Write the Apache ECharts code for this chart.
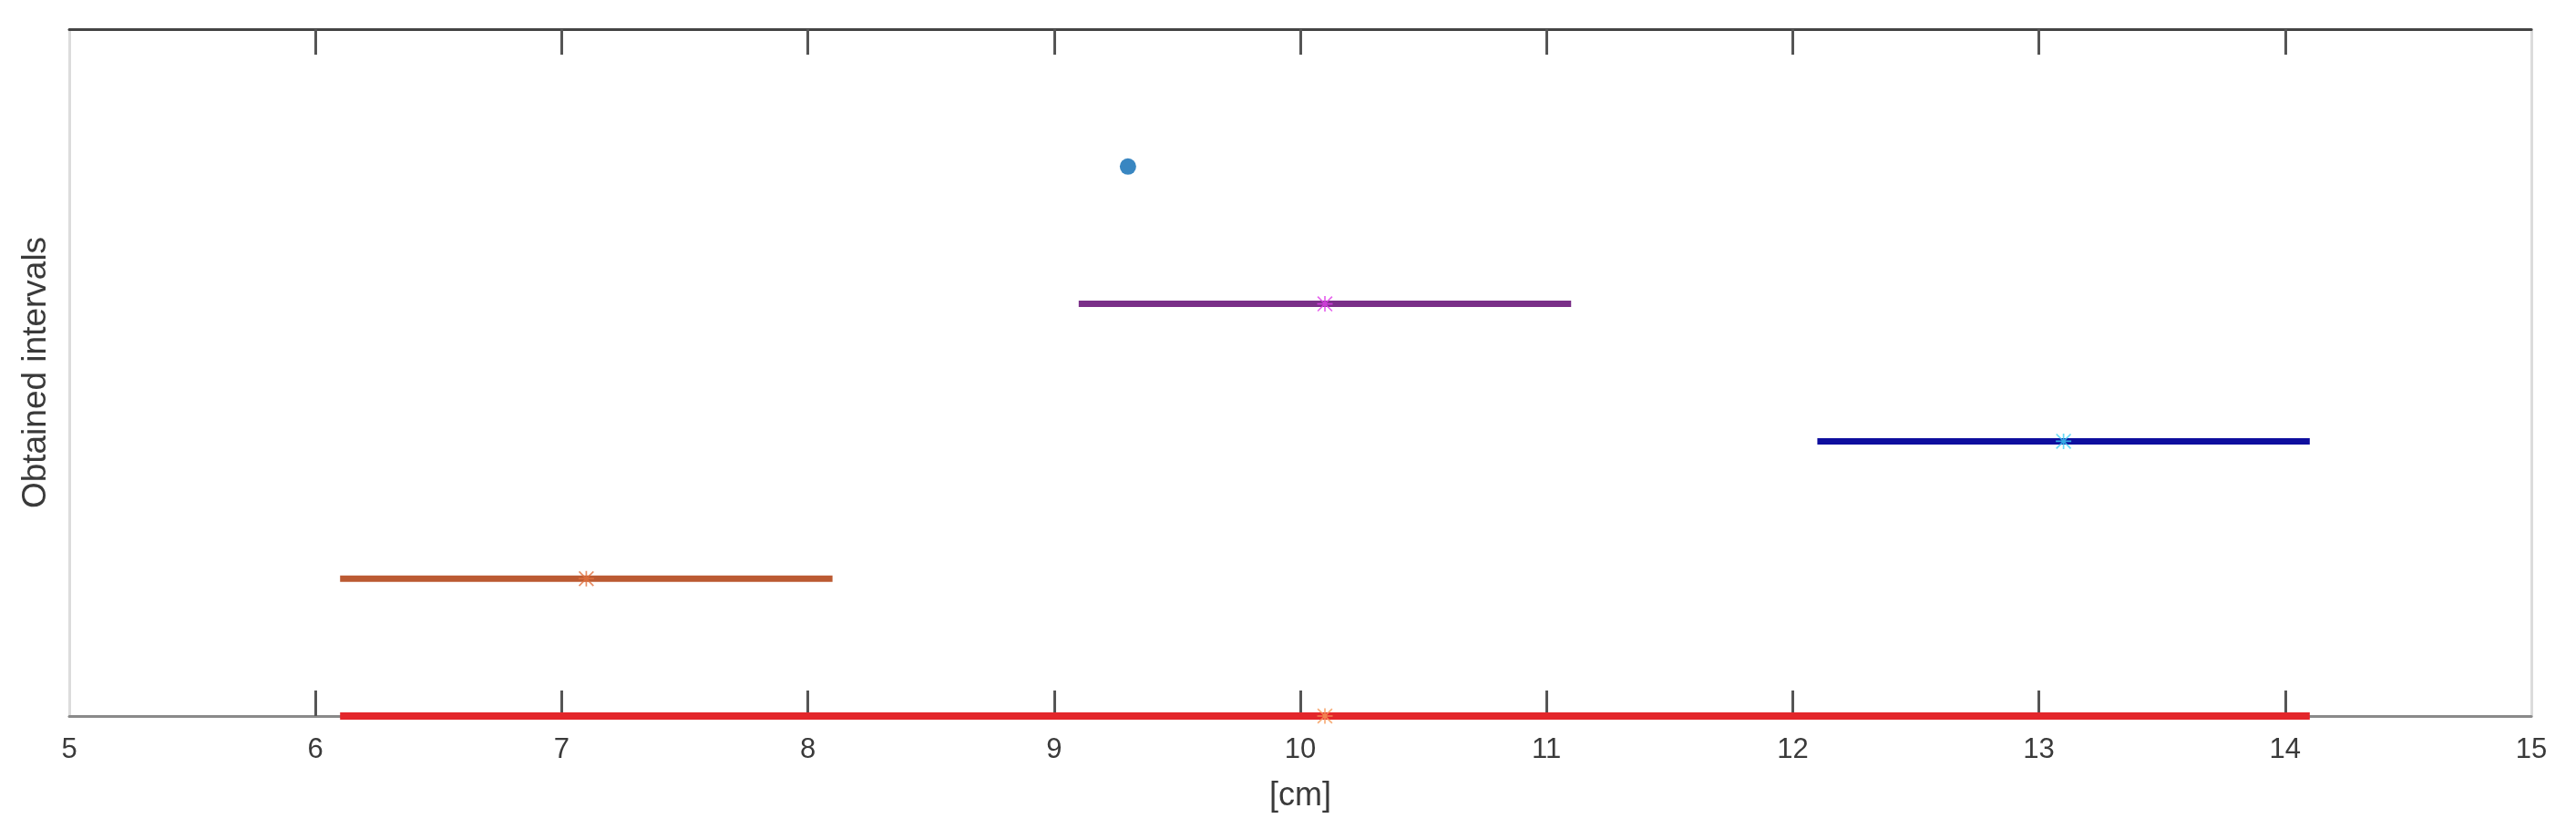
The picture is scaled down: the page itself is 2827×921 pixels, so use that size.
<!DOCTYPE html>
<html>
<head>
<meta charset="utf-8">
<script src="https://cdn.jsdelivr.net/npm/echarts@6/dist/echarts.min.js"></script>
<style>
html,body{margin:0;padding:0;background:#fff;}
#chart{width:2827px;height:921px;}
</style>
</head>
<body>
<div id="chart"></div>
<script>
// ---- data ----
const xTickMin = 5;
const xTickMax = 15;
const xTickStep = 1;
const xInnerTicks = [6, 7, 8, 9, 10, 11, 12, 13, 14];
const yMin = 0;
const yMax = 5;

const intervalLevel = [0, 1, 2, 3];
const intervalLow   = [6.1, 6.1, 12.1, 9.1];
const intervalHigh  = [14.1, 8.1, 14.1, 11.1];
const intervalMid   = [10.1, 7.1, 13.1, 10.1];
const intervalLineColor   = ['#e3262b', '#bb5a32', '#0e0e9e', '#7a2f88'];
const intervalMarkerColor = ['#f59a5a', '#e0703e', '#3fd0f2', '#e040e8'];

const pointX = [9.3];
const pointY = [4];

const xName = '[cm]';
const yName = 'Obtained intervals';

// asterisk marker (MATLAB '*')
const asterisk = 'path://M9,0 L11,0 L11,20 L9,20 Z M0,9 L20,9 L20,11 L0,11 Z ' +
  'M0,1.4 L1.4,0 L20,18.6 L18.6,20 Z M18.6,0 L20,1.4 L1.4,20 L0,18.6 Z';

const series = [];
intervalLevel.forEach((lv, i) => {
  series.push({
    type: 'line',
    data: [[intervalLow[i], lv], [intervalHigh[i], lv]],
    showSymbol: false,
    clip: false,
    lineStyle: { color: intervalLineColor[i], width: i === 0 ? 8 : 7, cap: 'butt' },
    z: 5,
    silent: true
  });
  series.push({
    type: 'scatter',
    data: [[intervalMid[i], lv]],
    symbol: asterisk,
    symbolSize: 17,
    clip: false,
    itemStyle: { color: intervalMarkerColor[i] },
    z: 6,
    silent: true
  });
});
series.push({
  type: 'scatter',
  data: pointX.map((x, i) => [x, pointY[i]]),
  symbol: 'circle',
  symbolSize: 18,
  itemStyle: { color: '#0868b2' },
  z: 6,
  silent: true
});

const FONT = 'Liberation Sans, Arial, sans-serif';
const chart = echarts.init(document.getElementById('chart'), null, { renderer: 'canvas' });
chart.setOption({
  backgroundColor: '#ffffff',
  animation: false,
  textStyle: { fontFamily: FONT },
  grid: { left: 76, right: 49, top: 32, bottom: 135, containLabel: false },
  xAxis: [
    {
      type: 'value', position: 'bottom',
      min: xTickMin, max: xTickMax, interval: xTickStep,
      name: xName, nameLocation: 'middle', nameGap: 70,
      nameTextStyle: { fontSize: 36, color: '#3a3a3a', fontFamily: FONT },
      axisLine: { show: true, onZero: false, lineStyle: { color: '#8a8a8a', width: 3 } },
      axisTick: { show: true, inside: true, length: 28, customValues: xInnerTicks,
                  lineStyle: { color: '#555', width: 3 } },
      axisLabel: { show: true, fontSize: 31, color: '#3a3a3a', margin: 22, fontFamily: FONT },
      splitLine: { show: false }
    },
    {
      type: 'value', position: 'top',
      min: xTickMin, max: xTickMax, interval: xTickStep,
      axisLine: { show: true, onZero: false, lineStyle: { color: '#444', width: 3 } },
      axisTick: { show: true, inside: true, length: 28, customValues: xInnerTicks,
                  lineStyle: { color: '#555', width: 3 } },
      axisLabel: { show: false },
      splitLine: { show: false }
    }
  ],
  yAxis: [
    {
      type: 'value', position: 'left',
      min: yMin, max: yMax, interval: 1,
      name: yName, nameLocation: 'middle', nameGap: 18, nameRotate: 90,
      nameTextStyle: { fontSize: 37, color: '#3a3a3a', fontFamily: FONT },
      axisLine: { show: true, onZero: false, lineStyle: { color: '#dcdcdc', width: 3 } },
      axisTick: { show: false },
      axisLabel: { show: false },
      splitLine: { show: false }
    },
    {
      type: 'value', position: 'right',
      min: yMin, max: yMax, interval: 1,
      axisLine: { show: true, onZero: false, lineStyle: { color: '#dcdcdc', width: 3 } },
      axisTick: { show: false },
      axisLabel: { show: false },
      splitLine: { show: false }
    }
  ],
  series: series
});
</script>
</body>
</html>
